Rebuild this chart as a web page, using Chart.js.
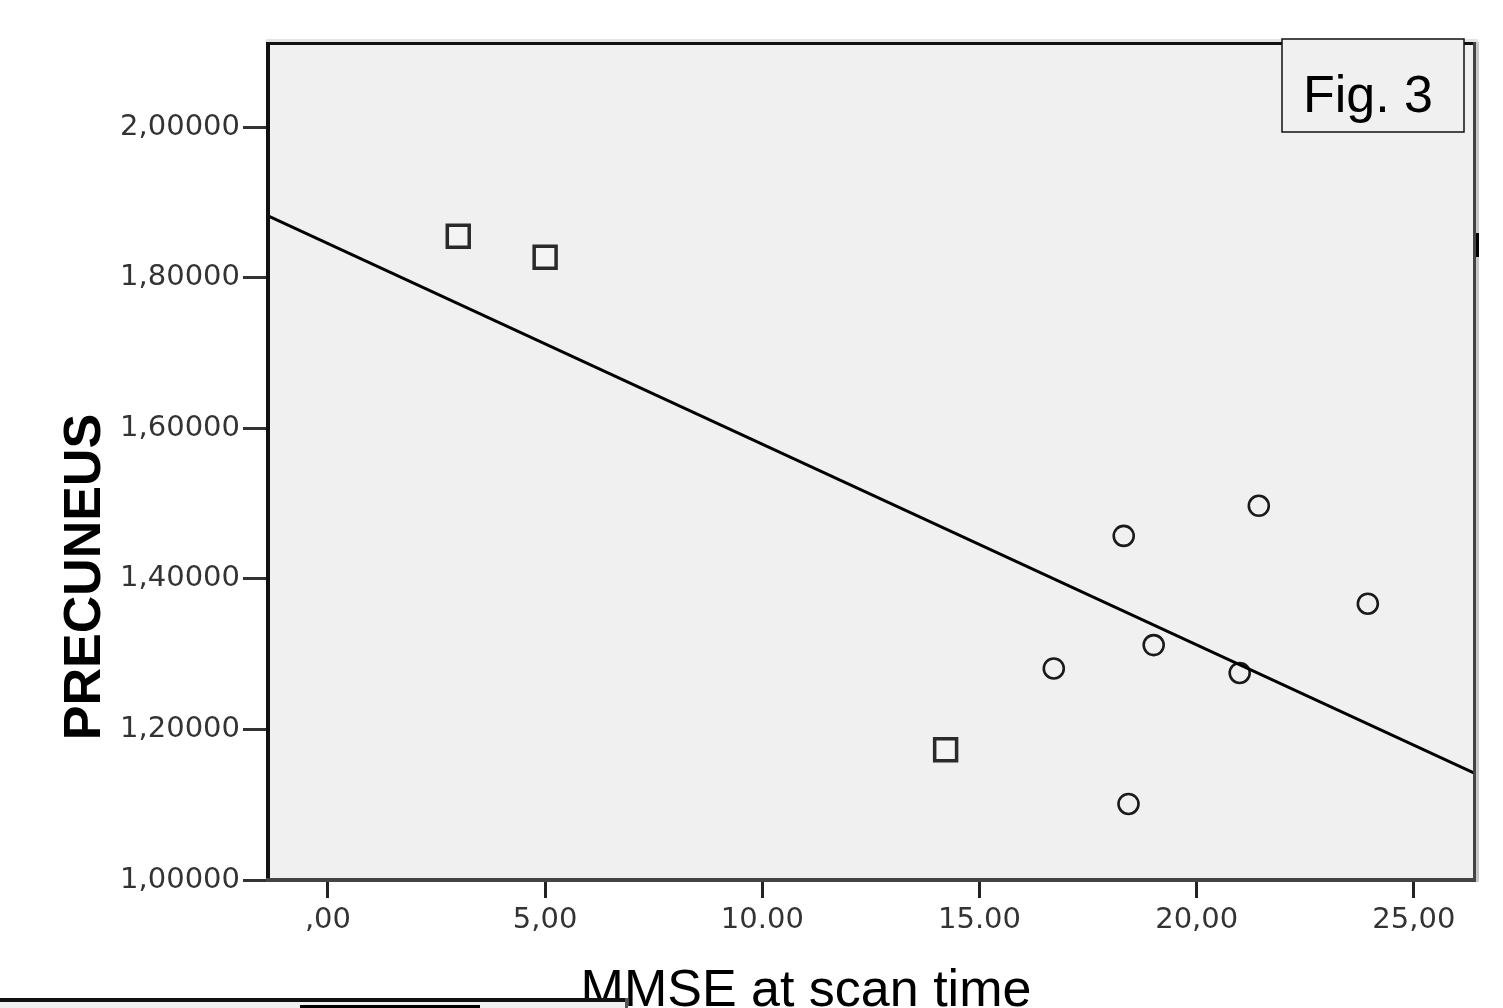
<!DOCTYPE html>
<html>
<head>
<meta charset="utf-8">
<script src="https://cdn.jsdelivr.net/npm/chart.js@4.4.1/dist/chart.umd.min.js"></script>
<style>
    html, body { margin: 0; padding: 0; background: #fff; }
    #wrap { width: 1503px; height: 1008px; position: relative; }
</style>
</head>
<body>
<div id="wrap"><canvas id="fig"></canvas></div>
<script>
// Data
const squareX = [3.00, 5.00, 14.22];
const squareY = [1.855, 1.827, 1.173];
const circleX = [18.32, 21.43, 23.94, 19.01, 16.71, 20.99, 18.43];
const circleY = [1.457, 1.497, 1.367, 1.312, 1.281, 1.275, 1.101];
const fitX = [-1.38, 26.43];
const fitY = [1.882, 1.141];

const xTickValues = [0, 5, 10, 15, 20, 25];
const xTickLabels = [',00', '5,00', '10.00', '15.00', '20,00', '25,00'];
const yTickValues = [1.0, 1.2, 1.4, 1.6, 1.8, 2.0];
const yTickLabels = ['1,00000', '1,20000', '1,40000', '1,60000', '1,80000', '2,00000'];

const xTitle = 'MMSE at scan time';
const yTitle = 'PRECUNEUS';
const figLabel = 'Fig. 3';

const toPoints = (xs, ys) => xs.map((x, i) => ({ x: x, y: ys[i] }));

// --- plot background, borders and extra text ---
const decor = {
    id: 'decor',
    beforeDraw(chart) {
        const { ctx, chartArea: a } = chart;
        ctx.save();
        ctx.fillStyle = '#f0f0f0';
        ctx.fillRect(a.left, a.top, a.right - a.left, a.bottom - a.top);
        ctx.restore();
    },
    afterDraw(chart) {
        const { ctx, chartArea: a } = chart;
        ctx.save();
        // frame
        ctx.fillStyle = '#e4e4e4';
        ctx.fillRect(a.left - 2, a.top - 3, a.right - a.left + 4, 3);
        ctx.fillStyle = '#c8c8c8';
        ctx.fillRect(a.right, a.top, 3, a.bottom - a.top + 2);
        ctx.fillStyle = '#111';
        ctx.fillRect(a.left - 2, a.top, 4, a.bottom - a.top);
        ctx.fillRect(a.left - 2, a.top, a.right - a.left, 3);
        ctx.fillStyle = '#444';
        ctx.fillRect(a.right - 3, a.top, 3, a.bottom - a.top + 1);
        ctx.fillRect(a.left - 2, a.bottom - 2, a.right - a.left + 2, 4);
        ctx.fillStyle = '#000';
        ctx.fillRect(a.right, 233, 3, 24);

        // Fig. 3 box
        ctx.fillStyle = '#f0f0f0';
        ctx.fillRect(1282, 39, 182, 93);
        ctx.strokeStyle = '#111';
        ctx.lineWidth = 1.5;
        ctx.strokeRect(1282, 39, 182, 93);
        ctx.fillStyle = '#000';
        ctx.font = '52px "Liberation Sans", Arial, sans-serif';
        ctx.textAlign = 'center';
        ctx.textBaseline = 'alphabetic';
        ctx.fillText(figLabel, 1368, 112);

        // axis titles
        ctx.font = '52px "Liberation Sans", Arial, sans-serif';
        ctx.fillText(xTitle, 806, 1006);
        ctx.save();
        ctx.translate(100, 577);
        ctx.rotate(-Math.PI / 2);
        ctx.font = 'bold 52px "Liberation Sans", Arial, sans-serif';
        ctx.fillText(yTitle, 0, 0);
        ctx.restore();

        // cut-off box at the bottom edge
        ctx.fillStyle = '#f0f0f0';
        ctx.fillRect(0, 1002, 626, 6);
        ctx.fillStyle = '#111';
        ctx.fillRect(0, 998, 626, 4);
        ctx.fillStyle = '#555';
        ctx.fillRect(625, 998, 3, 10);
        ctx.fillStyle = '#000';
        ctx.fillRect(300, 1005, 180, 3);
        ctx.restore();
    }
};

const tickFont = { family: '"DejaVu Sans", sans-serif', size: 29 };

new Chart(document.getElementById('fig'), {
    type: 'scatter',
    data: {
        datasets: [
            {
                type: 'line',
                data: toPoints(fitX, fitY),
                borderColor: '#000',
                borderWidth: 3,
                pointRadius: 0,
                fill: false
            },
            {
                data: toPoints(squareX, squareY),
                pointStyle: 'rect',
                pointRadius: 15.5,
                pointBorderWidth: 3.5,
                pointBorderColor: '#2a2a2a',
                pointBackgroundColor: '#f4f4f4'
            },
            {
                data: toPoints(circleX, circleY),
                pointStyle: 'circle',
                pointRadius: 10,
                pointBorderWidth: 2.6,
                pointBorderColor: '#1a1a1a',
                pointBackgroundColor: 'rgba(0,0,0,0)'
            }
        ]
    },
    options: {
        responsive: true,
        maintainAspectRatio: false,
        animation: false,
        layout: { padding: { top: 42, right: 27, left: 0, bottom: 0 } },
        plugins: {
            legend: { display: false },
            tooltip: { enabled: false }
        },
        scales: {
            x: {
                type: 'linear',
                min: -1.38,
                max: 26.43,
                afterBuildTicks: s => { s.ticks = xTickValues.map(v => ({ value: v })); },
                afterFit: s => { s.height = 128; },
                border: { display: false },
                grid: { drawOnChartArea: false, drawTicks: true, tickLength: 18, tickColor: '#222', tickWidth: 3 },
                ticks: {
                    font: tickFont,
                    color: '#333',
                    padding: 5,
                    maxRotation: 0,
                    callback: (v) => xTickLabels[xTickValues.indexOf(v)]
                }
            },
            y: {
                type: 'linear',
                min: 1.0,
                max: 2.113,
                afterBuildTicks: s => { s.ticks = yTickValues.map(v => ({ value: v })); },
                afterFit: s => { s.width = 268; },
                border: { display: false },
                grid: { drawOnChartArea: false, drawTicks: true, tickLength: 25, tickColor: '#333', tickWidth: 3 },
                ticks: {
                    font: tickFont,
                    color: '#333',
                    padding: 3,
                    callback: (v) => yTickLabels[yTickValues.indexOf(v)]
                }
            }
        }
    },
    plugins: [decor]
});
</script>
</body>
</html>
